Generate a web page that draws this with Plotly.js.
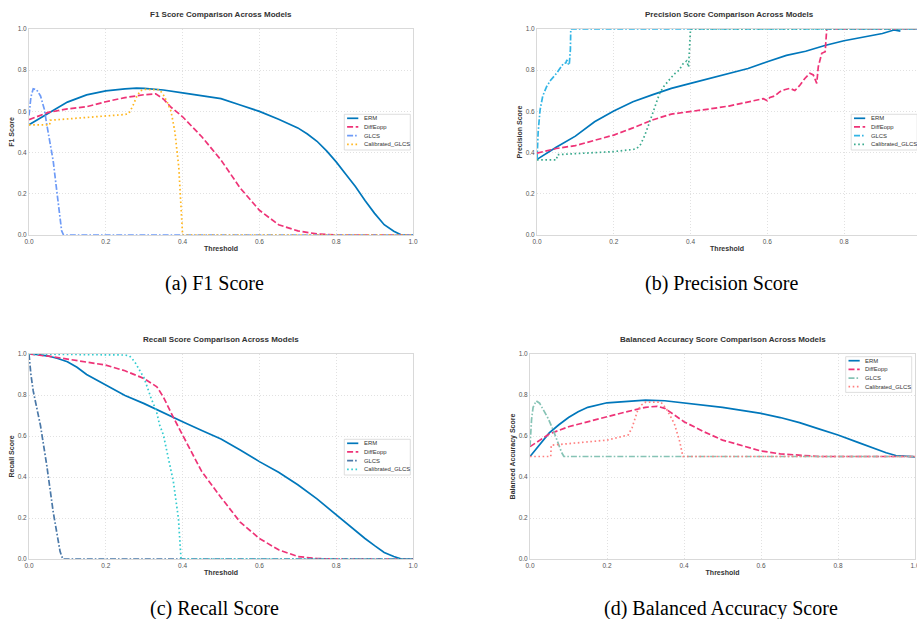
<!DOCTYPE html>
<html>
<head>
<meta charset="utf-8">
<script src="https://cdn.plot.ly/plotly-3.0.1.min.js"></script>
<style>html,body{margin:0;padding:0;background:#fff;}#chart{width:917px;height:619px;}</style>
</head>
<body>
<div id="chart"></div>
<script>
// ---------------- DATA ----------------
const models = ["ERM", "DiffEopp", "GLCS", "Calibrated_GLCS"];
const tickVals = [0, 0.2, 0.4, 0.6, 0.8, 1.0];

// F1 score
const f1ErmT = [0,0.05,0.1,0.15,0.2,0.25,0.28,0.3,0.35,0.4,0.45,0.5,0.55,0.6,0.65,0.7,0.725,0.75,0.775,0.8,0.825,0.85,0.875,0.9,0.925,0.95,0.97,1.0];
const f1ErmV = [0.535,0.59,0.645,0.68,0.70,0.709,0.713,0.712,0.704,0.69,0.676,0.662,0.631,0.60,0.562,0.52,0.49,0.455,0.408,0.355,0.295,0.235,0.168,0.105,0.05,0.018,0.0,0.0];
const f1DiffT = [0,0.05,0.1,0.15,0.2,0.25,0.3,0.33,0.35,0.37,0.4,0.45,0.5,0.55,0.6,0.65,0.7,0.75,0.8,1.0];
const f1DiffV = [0.56,0.595,0.612,0.623,0.647,0.667,0.681,0.685,0.66,0.62,0.574,0.477,0.364,0.228,0.12,0.05,0.02,0.005,0,0];
const f1GlcsT = [0,0.005,0.011,0.02,0.03,0.04,0.046,0.055,0.063,0.07,0.078,0.085,0.09,1.0];
const f1GlcsV = [0.58,0.67,0.71,0.705,0.675,0.61,0.54,0.45,0.36,0.25,0.12,0.02,0,0];
const f1CalT = [0,0.054,0.055,0.1,0.15,0.2,0.25,0.26,0.27,0.28,0.29,0.3,0.34,0.35,0.36,0.37,0.38,0.39,0.395,0.4,1.0];
const f1CalV = [0.535,0.535,0.557,0.564,0.57,0.577,0.585,0.59,0.625,0.67,0.70,0.707,0.705,0.68,0.645,0.60,0.50,0.33,0.15,0,0];

// Precision score
const prErmT = [0,0.05,0.1,0.15,0.2,0.25,0.3,0.35,0.4,0.45,0.5,0.55,0.6,0.65,0.7,0.75,0.8,0.85,0.9,0.93,0.94,0.947];
const prErmV = [0.367,0.426,0.48,0.55,0.602,0.647,0.68,0.712,0.736,0.76,0.787,0.808,0.841,0.872,0.892,0.92,0.943,0.96,0.978,0.995,0.992,0.99];
const prDiffT = [0,0.05,0.1,0.15,0.2,0.25,0.3,0.35,0.4,0.45,0.5,0.55,0.58,0.59,0.6,0.607,0.62,0.633,0.645,0.659,0.672,0.685,0.698,0.711,0.72,0.729,0.733,0.742,0.751,0.755,1.0];
const prDiffV = [0.397,0.42,0.434,0.458,0.485,0.52,0.558,0.587,0.598,0.612,0.626,0.647,0.66,0.662,0.652,0.668,0.675,0.696,0.705,0.712,0.701,0.727,0.76,0.785,0.777,0.736,0.817,0.882,0.89,1.0,1.0];
const prGlcsT = [0,0.003,0.008,0.015,0.025,0.035,0.051,0.06,0.069,0.075,0.078,0.081,0.084,0.087,0.088,1.0];
const prGlcsV = [0.364,0.5,0.607,0.675,0.72,0.75,0.785,0.81,0.833,0.835,0.85,0.832,0.825,0.9,1.0,1.0];
const prCalT = [0,0.051,0.053,0.1,0.15,0.2,0.25,0.26,0.27,0.28,0.29,0.3,0.31,0.32,0.33,0.34,0.35,0.36,0.37,0.38,0.39,0.395,0.398,0.4,1.0];
const prCalV = [0.365,0.365,0.39,0.395,0.40,0.405,0.415,0.42,0.44,0.48,0.53,0.58,0.64,0.69,0.72,0.745,0.765,0.785,0.80,0.83,0.845,0.815,0.95,1.0,1.0];

// Recall score
const recErmT = [0,0.025,0.05,0.075,0.1,0.125,0.15,0.2,0.25,0.3,0.35,0.4,0.45,0.5,0.55,0.6,0.65,0.7,0.75,0.8,0.85,0.875,0.9,0.925,0.95,0.97,1.0];
const recErmV = [1.0,0.997,0.99,0.978,0.962,0.935,0.90,0.849,0.798,0.758,0.712,0.67,0.627,0.585,0.532,0.475,0.423,0.362,0.293,0.215,0.135,0.1,0.065,0.032,0.012,0.0,0.0];
const recDiffT = [0,0.05,0.1,0.15,0.2,0.25,0.3,0.333,0.35,0.375,0.4,0.45,0.5,0.55,0.6,0.65,0.7,0.75,0.8,1.0];
const recDiffV = [1.0,0.99,0.975,0.962,0.946,0.918,0.88,0.84,0.79,0.694,0.605,0.426,0.30,0.18,0.10,0.045,0.012,0.002,0,0];
const recGlcsT = [0,0.005,0.011,0.02,0.03,0.046,0.063,0.081,0.088,1.0];
const recGlcsV = [1.0,0.9,0.82,0.74,0.65,0.46,0.23,0.036,0,0];
const recCalT = [0,0.25,0.262,0.275,0.3,0.318,0.332,0.34,0.35,0.376,0.389,0.396,0.4,1.0];
const recCalV = [1.0,0.995,0.99,0.963,0.882,0.784,0.72,0.655,0.605,0.377,0.2,0.0,0,0];

// Balanced accuracy score
const baErmT = [0,0.025,0.05,0.075,0.1,0.125,0.15,0.2,0.25,0.3,0.35,0.4,0.45,0.5,0.55,0.6,0.65,0.7,0.75,0.8,0.85,0.9,0.925,0.95,1.0];
const baErmV = [0.50,0.56,0.615,0.655,0.69,0.718,0.74,0.762,0.77,0.775,0.772,0.762,0.752,0.74,0.725,0.71,0.69,0.665,0.635,0.605,0.57,0.536,0.518,0.505,0.498];
const baDiffT = [0,0.05,0.1,0.15,0.2,0.25,0.3,0.33,0.35,0.4,0.45,0.5,0.55,0.6,0.65,0.7,0.75,0.8,1.0];
const baDiffV = [0.548,0.61,0.645,0.668,0.694,0.718,0.74,0.745,0.735,0.67,0.622,0.58,0.552,0.527,0.513,0.505,0.50,0.50,0.50];
const baGlcsT = [0,0.004,0.008,0.016,0.025,0.035,0.047,0.06,0.073,0.082,0.088,1.0];
const baGlcsV = [0.55,0.68,0.74,0.771,0.76,0.725,0.686,0.63,0.564,0.52,0.50,0.50];
const baCalT = [0,0.054,0.055,0.1,0.15,0.2,0.255,0.265,0.28,0.29,0.3,0.34,0.355,0.375,0.389,0.397,0.4,1.0];
const baCalV = [0.5,0.5,0.555,0.562,0.57,0.58,0.605,0.64,0.727,0.752,0.765,0.765,0.73,0.66,0.572,0.5,0.5,0.5];

const panelTitles = ["F1 Score Comparison Across Models", "Precision Score Comparison Across Models",
                     "Recall Score Comparison Across Models", "Balanced Accuracy Score Comparison Across Models"];
const yTitles = ["F1 Score", "Precision Score", "Recall Score", "Balanced Accuracy Score"];
const captions = ["(a) F1 Score", "(b) Precision Score", "(c) Recall Score", "(d) Balanced Accuracy Score"];

// ---------------- STYLE / LAYOUT ----------------
const W = 917, H = 619;
const px = x => x / W;
const py = y => 1 - y / H;

const ermColor = "#0077BB", diffColor = "#EE3377";
const glcsColors = ["#6E9BF7", "#33B5E5", "#4A78A8", "#86C3B5"];
const calColors = ["#FFB61E", "#3AAA8E", "#33CCD0", "#FF8080"];
const dashes = ["solid", "6px,2.6px", "6px,2px,1.6px,2px", "1.6px,2.6px"];
const LW = 1.7;

const panels = [
  {xa: "x",  ya: "y",  data: [[f1ErmT,f1ErmV],[f1DiffT,f1DiffV],[f1GlcsT,f1GlcsV],[f1CalT,f1CalV]],
   left: 29, right: 413, top: 29, bottom: 235, leg: [344.3, 114.3], xr: 1},
  {xa: "x2", ya: "y2", data: [[prErmT,prErmV],[prDiffT,prDiffV],[prGlcsT,prGlcsV],[prCalT,prCalV]],
   left: 537, right: 917, top: 29, bottom: 235, leg: [851.2, 114.3], xr: (917-537)/383.75},
  {xa: "x3", ya: "y3", data: [[recErmT,recErmV],[recDiffT,recDiffV],[recGlcsT,recGlcsV],[recCalT,recCalV]],
   left: 29, right: 413, top: 354, bottom: 559, leg: [344.3, 439.3], xr: 1},
  {xa: "x4", ya: "y4", data: [[baErmT,baErmV],[baDiffT,baDiffV],[baGlcsT,baGlcsV],[baCalT,baCalV]],
   left: 530, right: 915, top: 354, bottom: 559, leg: [845.7, 356.7], xr: 1}
];

const traces = [];
const shapes = [];
const annotations = [];
const layout = {
  width: W, height: H,
  margin: {l: 0, r: 0, t: 0, b: 0},
  paper_bgcolor: "#ffffff", plot_bgcolor: "#ffffff",
  showlegend: false,
  font: {family: "Liberation Sans, Arial, sans-serif", color: "#333"}
};

const axisBase = {
  showgrid: true, gridcolor: "#d9d9d9", griddash: "1px,2px", gridwidth: 0.8,
  zeroline: false, showline: true, linecolor: "#d9d9d9", linewidth: 1,
  ticks: "", tickvals: tickVals, tickformat: ".1f",
  tickfont: {family: "Liberation Sans, Arial, sans-serif", size: 6.5, color: "#555"},
  ticklabeloverflow: "allow",
  automargin: false, fixedrange: true
};

panels.forEach((p, i) => {
  const colors = [ermColor, diffColor, glcsColors[i], calColors[i]];
  p.data.forEach((d, k) => {
    traces.push({
      type: "scatter", mode: "lines", x: d[0], y: d[1], name: models[k],
      xaxis: p.xa, yaxis: p.ya,
      line: {color: colors[k], width: LW, dash: dashes[k]},
      hoverinfo: "skip"
    });
  });
  const xk = "xaxis" + (i === 0 ? "" : i + 1);
  const yk = "yaxis" + (i === 0 ? "" : i + 1);
  layout[xk] = Object.assign({}, axisBase, {
    domain: [px(p.left), Math.min(1, px(p.right))], range: [0, p.xr], anchor: p.ya,
    mirror: true,
    title: {text: "<b>Threshold</b>", font: {size: 7, color: "#333"}, standoff: 2}
  });
  layout[yk] = Object.assign({}, axisBase, {
    domain: [py(p.bottom), py(p.top)], range: [0, 1], anchor: p.xa,
    mirror: i === 1 ? false : true,
    title: {text: "<b>" + yTitles[i] + "</b>", font: {size: 7, color: "#333"}, standoff: 2}
  });
  // panel title
  annotations.push({
    xref: "paper", yref: "paper", x: px((p.left + (i === 1 ? 921 : p.right)) / 2), y: py(p.top - 15),
    xanchor: "center", yanchor: "middle", showarrow: false,
    text: "<b>" + panelTitles[i] + "</b>", font: {size: 8, color: "#333"}
  });
  // caption
  annotations.push({
    xref: "paper", yref: "paper", x: px(i % 2 === 0 ? 214 : 721), y: py(p.bottom + 49),
    xanchor: "center", yanchor: "middle", showarrow: false,
    text: captions[i], font: {family: "Liberation Serif, Times New Roman, serif", size: 20, color: "#000"}
  });
  // legend (compact, matplotlib-like)
  const lx = p.leg[0], ly = p.leg[1];
  shapes.push({
    type: "rect", xref: "paper", yref: "paper",
    x0: px(lx), x1: px(lx + 66), y0: py(ly), y1: py(ly + 35.7),
    line: {color: "#d6d6d6", width: 0.8}, fillcolor: "rgba(255,255,255,0.85)", layer: "above"
  });
  models.forEach((m, k) => {
    const iy = ly + 4 + k * 8.67;
    shapes.push({
      type: "line", xref: "paper", yref: "paper",
      x0: px(lx + 2.8), x1: px(lx + 14), y0: py(iy), y1: py(iy),
      line: {color: colors[k], width: LW, dash: dashes[k]}, layer: "above"
    });
    annotations.push({
      xref: "paper", yref: "paper", x: px(lx + 17.5), y: py(iy),
      xanchor: "left", yanchor: "middle", showarrow: false,
      text: m, font: {size: 5.9, color: "#333"}
    });
  });
});

layout.shapes = shapes;
layout.annotations = annotations;

Plotly.newPlot("chart", traces, layout, {staticPlot: true, displayModeBar: false});
</script>
</body>
</html>
